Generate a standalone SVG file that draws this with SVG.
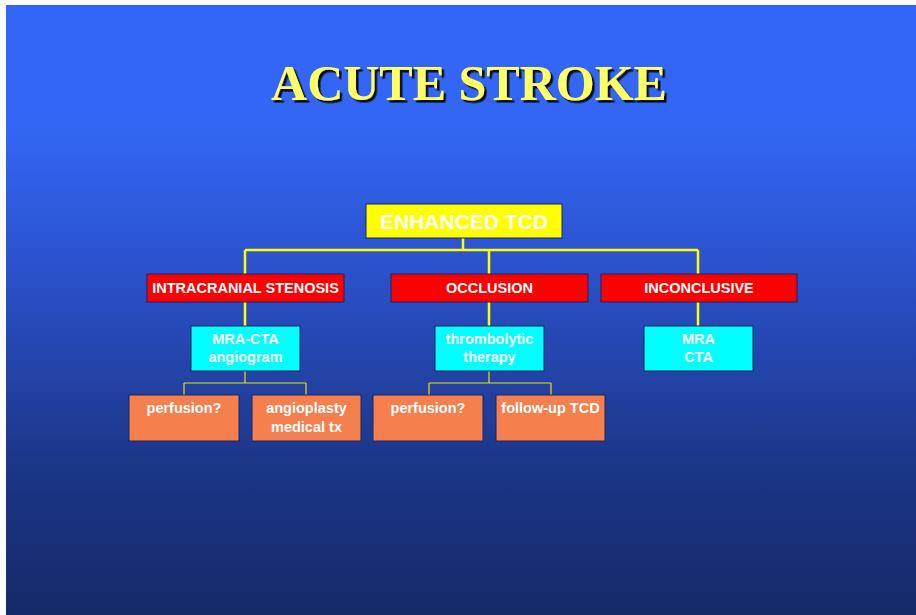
<svg xmlns="http://www.w3.org/2000/svg" width="916" height="615" viewBox="0 0 916 615">
<defs>
<linearGradient id="bg" x1="0" y1="0" x2="0" y2="1">
<stop offset="0" stop-color="#3366F8"/>
<stop offset="0.2" stop-color="#3366F5"/>
<stop offset="0.45" stop-color="#2A50C8"/>
<stop offset="0.75" stop-color="#1C3688"/>
<stop offset="1" stop-color="#152A68"/>
</linearGradient>
<filter id="shadow" x="-5%" y="-20%" width="110%" height="140%">
<feDropShadow dx="2.5" dy="2.5" stdDeviation="0" flood-color="#111111" flood-opacity="1"/>
</filter>
<style>
.lbl{font-family:"Liberation Sans",Arial,sans-serif;font-weight:bold;fill:#FFFFFF;text-anchor:middle}
.red{fill:#FF0000;stroke:#1A2560;stroke-width:1}
.cyan{fill:#00FFFF;stroke:#1A2560;stroke-width:1}
.org{fill:#F5804E;stroke:#1A2560;stroke-width:1}
.thick{stroke:#FFFF00;stroke-width:2.5;fill:none}
.thin{stroke:#E6E600;stroke-width:1.2;fill:none}
</style>
</defs>
<rect width="916" height="615" fill="#FFFFFF"/>
<rect x="6" y="5" width="910" height="610" fill="url(#bg)"/>
<g id="title">
<text x="469" y="100" font-family="'Liberation Serif','Times New Roman',serif" font-weight="bold" font-size="50" text-anchor="middle" fill="#FFFF66" filter="url(#shadow)">ACUTE STROKE</text>
</g>
<g id="connectors">
<path class="thick" d="M463 238V250M245 250H698M245 250V274M489 250V274M698 250V274"/>
<path class="thick" d="M245 302V326M489 302V326M698 302V326"/>
<path class="thin" d="M245 371V383M184 383H306M184 383V396M306 383V396"/>
<path class="thin" d="M489 371V383M429 383H551M429 383V396M551 383V396"/>
</g>
<g id="enhanced">
<rect x="366" y="204" width="196" height="34" fill="#FFFF00" stroke="#1A2560" stroke-width="1"/>
<text class="lbl" x="464" y="229" font-size="21">ENHANCED TCD</text>
</g>
<g id="stenosis">
<rect class="red" x="147" y="274" width="197" height="28"/>
<text class="lbl" x="245.5" y="293" font-size="14.5">INTRACRANIAL STENOSIS</text>
</g>
<g id="occlusion">
<rect class="red" x="391" y="274" width="197" height="28"/>
<text class="lbl" x="489.5" y="293" font-size="14.5">OCCLUSION</text>
</g>
<g id="inconclusive">
<rect class="red" x="601" y="274" width="196" height="28"/>
<text class="lbl" x="699" y="293" font-size="14.5">INCONCLUSIVE</text>
</g>
<g id="mracta-angio">
<rect class="cyan" x="191" y="326" width="109" height="45"/>
<text class="lbl" x="245.5" y="344" font-size="14.5">MRA-CTA</text>
<text class="lbl" x="245.5" y="362" font-size="14.5">angiogram</text>
</g>
<g id="thrombolytic">
<rect class="cyan" x="435" y="326" width="109" height="45"/>
<text class="lbl" x="489.5" y="344" font-size="14.5">thrombolytic</text>
<text class="lbl" x="489.5" y="362" font-size="14.5">therapy</text>
</g>
<g id="mra-cta">
<rect class="cyan" x="644" y="326" width="109" height="45"/>
<text class="lbl" x="698.5" y="344" font-size="14.5">MRA</text>
<text class="lbl" x="698.5" y="362" font-size="14.5">CTA</text>
</g>
<g id="perfusion1">
<rect class="org" x="129" y="395" width="110" height="46"/>
<text class="lbl" x="184" y="413" font-size="14.5">perfusion?</text>
</g>
<g id="angioplasty">
<rect class="org" x="252" y="395" width="109" height="46"/>
<text class="lbl" x="306.5" y="413" font-size="14.5">angioplasty</text>
<text class="lbl" x="306.5" y="432" font-size="14.5">medical tx</text>
</g>
<g id="perfusion2">
<rect class="org" x="373" y="395" width="110" height="46"/>
<text class="lbl" x="428" y="413" font-size="14.5">perfusion?</text>
</g>
<g id="followup">
<rect class="org" x="496" y="395" width="109" height="46"/>
<text class="lbl" x="550.5" y="413" font-size="14.5">follow-up TCD</text>
</g>
</svg>
